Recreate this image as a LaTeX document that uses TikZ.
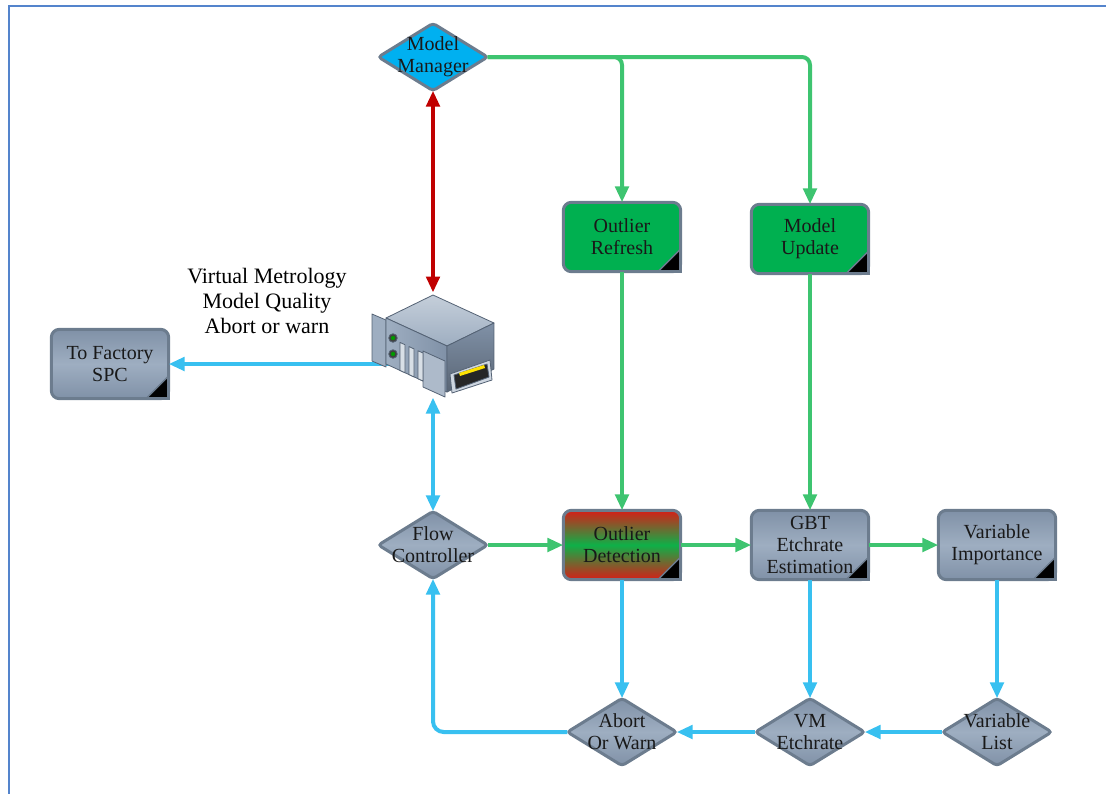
\documentclass[tikz,border=0pt]{standalone}
\usepackage{fontspec}
\setmainfont{Liberation Serif}
\usetikzlibrary{shapes.geometric,arrows.meta}

\definecolor{edgegray}{RGB}{108,124,142}
\definecolor{grayhi}{RGB}{158,174,193}
\definecolor{graylo}{RGB}{128,145,167}
\definecolor{boxgreen}{RGB}{0,176,80}
\definecolor{mmcyan}{RGB}{0,176,240}
\definecolor{odred}{RGB}{214,30,24}
\definecolor{odgreen}{RGB}{14,176,72}
\definecolor{linkgreen}{RGB}{62,196,112}
\definecolor{linkblue}{RGB}{56,192,240}
\definecolor{linkred}{RGB}{192,0,0}
\definecolor{framecol}{RGB}{84,132,204}
\definecolor{srvline}{RGB}{84,98,116}

\tikzset{every picture/.style={line width=0.75pt}}
\tikzset{
  boxtxt/.style={font=\fontsize{15}{16.5}\selectfont, align=center, text=black!90},
  vmbox/.style={rectangle, rounded corners=6pt, draw=edgegray, line width=2.25pt,
    outer sep=0pt, inner sep=1pt, minimum width=88pt, minimum height=52pt, boxtxt},
  graybox/.style={vmbox, top color=graylo, bottom color=graylo, middle color=grayhi},
  greenbox/.style={vmbox, fill=boxgreen},
  redgreenbox/.style={vmbox, top color=odred, bottom color=odred, middle color=odgreen},
  vmdia/.style={diamond, draw=edgegray, line width=2.25pt, rounded corners=2.5pt,
    outer sep=0pt, inner sep=0pt, minimum width=82pt, minimum height=50.5pt,
    label={[boxtxt]center:#1}},
  graydia/.style={vmdia=#1, top color=graylo, bottom color=graylo, middle color=grayhi},
  glink/.style={draw=linkgreen, line width=3pt},
  blink/.style={draw=linkblue, line width=3pt},
  rlink/.style={draw=linkred, line width=3pt},
  >={Triangle[length=12pt,width=10pt]}
}

\begin{document}
\begin{tikzpicture}[x=0.75pt,y=0.75pt,yscale=-1,xscale=1]
\path[use as bounding box] (0,0) rectangle (1106,794);

%Page frame
\draw[framecol, line width=1.5pt] (1106,6) -- (9,6) -- (9,794);

%Diamonds
\node[vmdia={Model\\Manager}, fill=mmcyan] (mm) at (433,57) {};
\node[graydia={Flow\\Controller}] (fc) at (433,545) {};
\node[graydia={Abort\\Or Warn}] (ab) at (622,732) {};
\node[graydia={VM\\Etchrate}] (vme) at (810,732) {};
\node[graydia={Variable\\List}] (vl) at (997,732) {};

%Process boxes
\node[greenbox] (orf) at (622,237) {Outlier\\Refresh};
\node[greenbox] (mup) at (810,239) {Model\\Update};
\node[graybox] (spc) at (110,364) {To Factory\\SPC};
\node[redgreenbox] (odt) at (622,545) {Outlier\\Detection};
\node[graybox] (gbt) at (810,545) {GBT\\Etchrate\\Estimation};
\node[graybox] (vim) at (997,545) {Variable\\Importance};

%Folded corners
\foreach \b in {orf,mup,spc,odt,gbt,vim} {
  \fill[black] ([xshift=-17pt]\b.south east) -- (\b.south east) -- ([yshift=-17pt]\b.south east) -- cycle;
  \draw[edgegray, line width=1pt] ([xshift=-17pt]\b.south east) -- ([yshift=-17pt]\b.south east);
  \draw[edgegray, line width=2.25pt, line join=miter]
    ([xshift=-18pt]\b.south east) -- (\b.south east) -- ([yshift=-18pt]\b.south east);
}

%Server placeholder
\node[minimum width=92pt, minimum height=78pt, inner sep=0pt] (srv) at (433,345) {};
\coordinate (srvport) at (398,364);

% Text Node
\node[font=\fontsize{16.5}{19}\selectfont, align=center] (vmq) at (267,301)
  {Virtual Metrology\\Model Quality\\Abort or warn};

%Green links
\draw[glink, ->, rounded corners=6pt] (mm.east) -| (orf.north);
\draw[glink, ->, rounded corners=6pt] (mm.east) -| (mup.north);
\draw[glink, ->] (orf.south) -- (odt.north);
\draw[glink, ->] (mup.south) -- (gbt.north);
\draw[glink, ->] (fc.east) -- (odt.west);
\draw[glink, ->] (odt.east) -- (gbt.west);
\draw[glink, ->] (gbt.east) -- (vim.west);

%Red link
\draw[rlink, <->] (mm.south) -- (srv.north);

%Blue links
\draw[blink, ->] (srvport) -- (spc.east);
\draw[blink, <->] (srv.south) -- (fc.north);
\draw[blink, ->] (odt.south) -- (ab.north);
\draw[blink, ->] (gbt.south) -- (vme.north);
\draw[blink, ->] (vim.south) -- (vl.north);
\draw[blink, ->] (vl.west) -- (vme.east);
\draw[blink, ->] (vme.west) -- (ab.east);
\draw[blink, ->, rounded corners=8pt] (ab.west) -| (fc.south);

%Server
\begin{scope}[draw=srvline, line width=0.6pt, line join=round]
  % left and right brackets
  \filldraw[fill=grayhi] (372,314) -- (386,320) -- (386,367) -- (372,361) -- cycle;
  % top face
  \draw[top color=grayhi!60!white, bottom color=grayhi] (386,318) -- (433,295) -- (494,323) -- (447,346) -- cycle;
  % front face
  \draw[left color=grayhi, right color=graylo] (386,318) -- (447,346) -- (447,392) -- (386,364) -- cycle;
  % side face
  \draw[top color=graylo, bottom color=graylo!70!black] (447,346) -- (494,323) -- (494,369) -- (447,392) -- cycle;
  \filldraw[fill=grayhi!85!white] (423,351) -- (445,361) -- (445,397) -- (423,387) -- cycle;
  % status lights
  \filldraw[fill=black!75] (393,338) circle (3.2pt);
  \fill[green!60!black] (393,338) circle (1.6pt);
  \filldraw[fill=black!75] (393,354) circle (3.2pt);
  \fill[green!60!black] (393,354) circle (1.6pt);
  % bays
  \foreach \sx in {400,409,418} {
    \filldraw[fill=grayhi!40!white] (\sx,{336+0.46*(\sx-386)}) -- ++(5,2.3) -- ++(0,28) -- ++(-5,-2.3) -- cycle;
  }
  % drive
  \filldraw[fill=grayhi!50!white] (450,374) -- (490,360) -- (492,380) -- (452,393) -- cycle;
  \filldraw[fill=black!85] (454,375) -- (487,364) -- (489,377) -- (456,389) -- cycle;
  \fill[yellow!85!orange] (459,373) -- (484,365) -- (485,368) -- (460,376) -- cycle;
\end{scope}

\end{tikzpicture}
\end{document}
